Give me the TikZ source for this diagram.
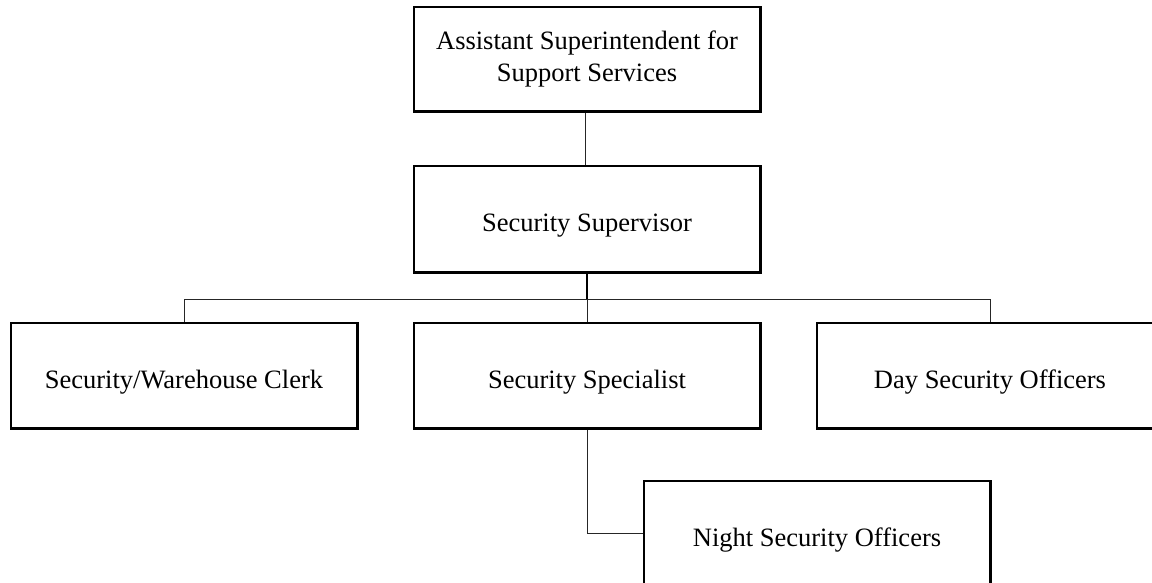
\documentclass[tikz,border=0pt]{standalone}
\usepackage{fontspec}
\setmainfont{Liberation Serif}
\begin{document}
\begin{tikzpicture}[x=1pt,y=-1pt,
  orgbox/.style={draw=black, line width=1.5pt, fill=white, minimum width=346pt,
    minimum height=105pt, inner sep=0pt, align=center,
    font=\fontsize{26.5}{32}\selectfont},
  oneline/.style={orgbox, text height=25pt, text depth=0pt},
  link/.style={draw=black!85, line width=1pt},
  trunk/.style={draw=black, line width=2pt}]
  \clip (0,0) rectangle (1152,582);
  \fill[white] (0,0) rectangle (1152,582);

  % boxes of the chart
  \node[orgbox, minimum height=104pt] (asst) at (587,59) {Assistant Superintendent for\\Support Services};
  \node[oneline, minimum height=106pt] (sup) at (587,219) {Security Supervisor};
  \node[oneline] (clerk) at (184,375.5) {Security/Warehouse Clerk};
  \node[oneline] (spec) at (587,375.5) {Security Specialist};
  \node[oneline] (day) at (990,375.5) {Day Security Officers};
  \node[oneline] (night) at (817,533.5) {Night Security Officers};

  % reporting lines
  \coordinate (bus) at (587,299);
  \draw[link] ([xshift=-2pt]asst.south) -- ([xshift=-2pt]sup.north);
  \draw[link] (clerk.north) |- (day.north |- bus) -- (day.north);
  \draw[link] (spec.north) -- (bus);
  \draw[trunk] (sup.south) -- (bus);
  \draw[link] (spec.south) |- (night.west);

  % redraw box outlines over the line ends
  \foreach \n in {asst,sup,clerk,spec,day,night}
    \draw[line width=1.5pt] (\n.north west) rectangle (\n.south east);
\end{tikzpicture}
\end{document}
